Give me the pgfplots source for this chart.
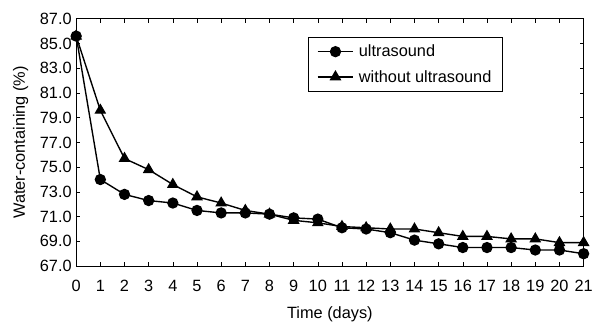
\documentclass[border=0pt]{standalone}
\usepackage{pgfplots}
\pgfplotsset{compat=1.18}
\usepackage{fontspec}
\setmainfont{Liberation Sans}
\begin{document}
\begin{tikzpicture}
\begin{axis}[
  scale only axis,
  width=513pt, height=250pt,
  xmin=0, xmax=21, ymin=67, ymax=87,
  xtick={0,...,21}, ytick={67,69,...,87},
  tick align=inside,
  major tick length=4pt,
  tick style={black, line width=0.6pt},
  yticklabel style={xshift=-1pt, /pgf/number format/.cd, fixed, fixed zerofill, precision=1},
  /pgf/number format/assume math mode=true,
  ticklabel style={font=\fontsize{16.5}{19}\selectfont},
  xticklabel style={yshift=-11pt},
  label style={font=\fontsize{16.5}{19}\selectfont},
  xlabel={Time (days)},
  ylabel={Water-containing (\%)},
  xlabel style={at={(axis description cs:0.5,0)}, anchor=base, yshift=-53pt},
  ylabel style={at={(axis description cs:0,0.5)}, anchor=center, yshift=56pt},
  axis line style={line width=1pt},
  legend style={at={(0.456,0.928)}, anchor=north west, draw=black, line width=1pt,
    font=\fontsize{16.5}{19}\selectfont, row sep=8pt, column sep=3pt, inner xsep=9pt, inner ysep=6pt,
    cells={anchor=west}},
  legend image code/.code={\draw[mark repeat=2,mark phase=2,#1] plot coordinates {(0pt,0pt) (18pt,0pt) (36pt,0pt)};},
  legend cell align=left,
  clip=false,
]
\addplot[black, line width=1.4pt, mark=*, mark size=5pt] coordinates {
(0,85.6) (1,74.0) (2,72.8) (3,72.3) (4,72.1) (5,71.5) (6,71.3) (7,71.3) (8,71.2) (9,70.9) (10,70.8) (11,70.1) (12,70.0) (13,69.7) (14,69.1) (15,68.8) (16,68.5) (17,68.5) (18,68.5) (19,68.3) (20,68.3) (21,68.0)
};
\addlegendentry{ultrasound}
\addplot[black, line width=1.4pt, mark=triangle*, mark size=5.5pt] coordinates {
(0,85.6) (1,79.6) (2,75.7) (3,74.8) (4,73.6) (5,72.6) (6,72.1) (7,71.5) (8,71.2) (9,70.7) (10,70.5) (11,70.2) (12,70.1) (13,70.0) (14,70.0) (15,69.7) (16,69.4) (17,69.4) (18,69.2) (19,69.2) (20,68.9) (21,68.9)
};
\addlegendentry{without ultrasound}
\end{axis}
\path (current axis.south west) ++(-77pt,-54pt) rectangle ++(596pt,323pt);
\end{tikzpicture}
\end{document}
